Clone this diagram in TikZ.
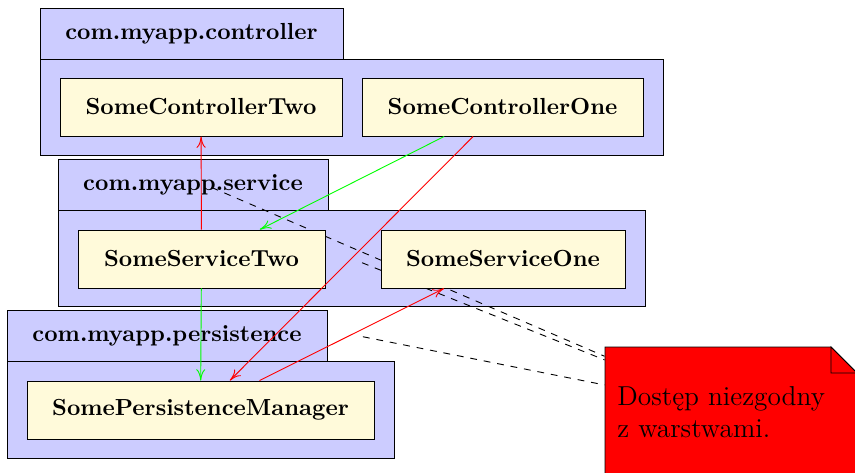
\documentclass[tikz,border=0pt]{standalone}
\usepackage{fontspec}
\usetikzlibrary{arrows.meta}
\definecolor{pkgblue}{RGB}{204,204,255}
\definecolor{clsyellow}{RGB}{255,250,218}
\pgfdeclarelayer{back}
\pgfdeclarelayer{links}
\pgfsetlayers{back,links,main}

\begin{document}
\begin{tikzpicture}[x=0.4386pt, y=-0.4386pt,
  size/.style 2 args={minimum width=#1*0.4386pt, minimum height=#2*0.4386pt},
  pkg/.style={draw, fill=pkgblue, inner sep=0pt, font=\fontsize{10.2}{12}\selectfont\bfseries},
  cls/.style={draw, fill=clsyellow, inner sep=0pt, font=\fontsize{10.2}{12}\selectfont\bfseries},
  tip/.style={-{To[length=5pt, width=4pt]}},
  dep/.style={tip, red},
  use/.style={tip, green},
  notelink/.style={dashed, shorten <=5pt}]
\useasboundingbox (0,0) rectangle (855,473);

% packages: body first, then the name tab
\begin{pgfonlayer}{back}
  \node[pkg, size={623}{96}] (ctrlbody) at (351.5,107) {};
  \node[pkg, size={303}{51}] (ctrltab) at (191.5,33.5) {com.myapp.controller};
  \node[pkg, size={587}{96}] (servbody) at (351.5,258) {};
  \node[pkg, size={270}{51}] (servtab) at (193,184.5) {com.myapp.service};
  \node[pkg, size={387}{97}] (persbody) at (200.5,409.5) {};
  \node[pkg, size={320}{51}] (perstab) at (167,335.5) {com.myapp.persistence};
\end{pgfonlayer}

% classes
\node[cls, size={282}{58}] (c2) at (201,107) {SomeControllerTwo};
\node[cls, size={281}{58}] (c1) at (502.5,107) {SomeControllerOne};
\node[cls, size={247}{58}] (s2) at (201.5,259) {SomeServiceTwo};
\node[cls, size={244}{58}] (s1) at (503,259) {SomeServiceOne};
\node[cls, size={347}{58}] (pm) at (200.5,410) {SomePersistenceManager};

% dependencies
\draw[dep] (s2) -- (c2) coordinate[midway] (m1);
\draw[use] (c1) -- (s2);
\draw[dep] (c1) -- (pm) coordinate[midway] (m2);
\draw[use] (s2) -- (pm);
\draw[dep] (pm) -- (s1) coordinate[midway] (m3);

% note with folded corner
\node[size={250}{126}, inner sep=0pt] (note) at (730,410) {};
\draw[fill=red] (605,347) -- (831,347) -- (858,374) -- (858,476) -- (605,476) -- cycle;
\draw[fill=red] (831,347) -- (831,373) -- (857,373) -- cycle;
\node[anchor=north west, inner sep=0pt, align=left, font=\large] (notetext)
  at (617,386) {Dostęp niezgodny\\z warstwami.};

% links from the offending dependencies to the note
\begin{pgfonlayer}{links}
  \draw[notelink] (m1) -- (note);
  \draw[notelink] (m2) -- (note);
  \draw[notelink] (m3) -- (note);
\end{pgfonlayer}
\end{tikzpicture}
\end{document}
